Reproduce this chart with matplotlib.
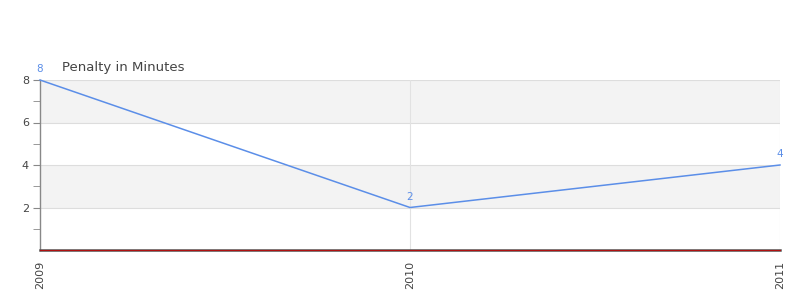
import matplotlib
matplotlib.use('Agg')
import matplotlib.pyplot as plt

years = ['2009', '2010', '2011']
penalty = [8, 2, 4]
title = 'Penalty in Minutes'

line_color = '#5b8ee8'
text_color = '#444444'

fig = plt.figure(figsize=(8, 3), dpi=100)
ax = fig.add_axes([0.05, 1 - 250 / 300, 0.925, 170 / 300])

x = list(range(len(years)))
ax.set_xlim(0, len(years) - 1)
ax.set_ylim(0, 8)

# alternating bands
for lo, hi in [(2, 4), (6, 8)]:
    ax.axhspan(lo, hi, color='#f3f3f3', zorder=0, lw=0)
for v in [2, 4, 6, 8]:
    ax.axhline(v, color='#dddddd', lw=0.8, zorder=1)
for xi in x[1:]:
    ax.axvline(xi, color='#e2e2e2', lw=0.8, zorder=1)

ax.plot(x, penalty, color=line_color, lw=1.1, zorder=3, clip_on=False)
for xi, v in zip(x, penalty):
    ax.annotate(str(v), (xi, v), xytext=(0, 4), textcoords='offset points',
                ha='center', va='bottom', fontsize=7.5, color=line_color)

# baseline: gray axis with red zero line over it
ax.axhline(0, color='#555555', lw=1.8, zorder=4, clip_on=False)
ax.axhline(0, color='#b01010', lw=0.8, zorder=5, clip_on=False)

for s in ['top', 'right', 'bottom']:
    ax.spines[s].set_visible(False)
ax.spines['left'].set_color('#888888')
ax.spines['left'].set_linewidth(1)

ax.set_yticks([2, 4, 6, 8])
ax.set_yticks([1, 3, 5, 7], minor=True)
ax.tick_params(axis='y', which='both', length=5, color='#888888',
               labelsize=8, labelcolor=text_color, pad=3)
ax.set_xticks(x)
ax.set_xticklabels(years, rotation=90)
ax.tick_params(axis='x', length=0, labelsize=8, labelcolor=text_color, pad=8)

fig.text(62 / 800, 1 - 67 / 300, title, fontsize=9.5, color=text_color,
         ha='left', va='center')

fig.savefig('out.png', dpi=100)
